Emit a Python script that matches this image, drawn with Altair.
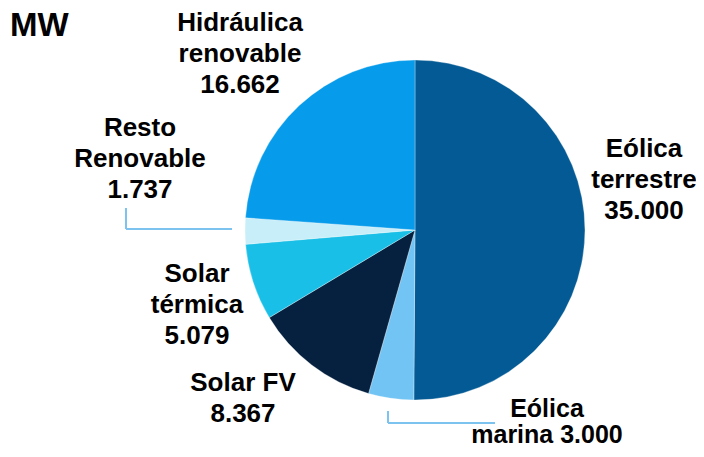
import altair as alt
import pandas as pd

categories = ["Eólica terrestre", "Eólica marina", "Solar FV", "Solar térmica",
              "Resto Renovable", "Hidráulica renovable"]
values_mw = [35000, 3000, 8367, 5079, 1737, 16662]
colors = ["#035a94", "#72c4f4", "#06213f", "#19bfe6", "#c8eff9", "#079ceb"]

def fmt(v):
    return f"{v:,}".replace(",", ".")

label_lines = {
    "Eólica terrestre": ["Eólica", "terrestre", fmt(values_mw[0])],
    "Eólica marina": ["Eólica", "marina " + fmt(values_mw[1])],
    "Solar FV": ["Solar FV", fmt(values_mw[2])],
    "Solar térmica": ["Solar", "térmica", fmt(values_mw[3])],
    "Resto Renovable": ["Resto", "Renovable", fmt(values_mw[4])],
    "Hidráulica renovable": ["Hidráulica", "renovable", fmt(values_mw[5])],
}

df = pd.DataFrame({"cat": categories, "val": values_mw,
                   "ord": list(range(len(categories)))})

W, H = 688, 441
CX, CY, R = 407, 222, 170
FONT = "Liberation Sans"

pie = alt.Chart(df).mark_arc(outerRadius=R, stroke="#ffffff", strokeWidth=0.6,
                             strokeOpacity=0.5).encode(
    theta=alt.Theta("val:Q", stack=True),
    order=alt.Order("ord:Q"),
    color=alt.Color("cat:N", scale=alt.Scale(domain=categories, range=colors), legend=None),
    x=alt.value(CX), y=alt.value(CY),
)

# position of first line centre of each label (chart pixels)
label_pos = {
    "Hidráulica renovable": (232, 15),
    "Resto Renovable": (132, 120),
    "Eólica terrestre": (636, 141),
    "Solar térmica": (189, 266),
    "Solar FV": (235, 375),
    "Eólica marina": (539, 401),
}
line_h = {"Eólica marina": 26}
font_sz = {"Eólica marina": 25}

layers = [pie]
base = alt.Chart(pd.DataFrame({"a": [0]}))
for cat in categories:
    px, py = label_pos[cat]
    layers.append(base.mark_text(font=FONT, fontWeight="bold", fontSize=font_sz.get(cat, 26),
                                 lineHeight=line_h.get(cat, 31), align="center",
                                 baseline="middle", color="#000000").encode(
        x=alt.value(px), y=alt.value(py), text=alt.value(label_lines[cat])))

layers.append(base.mark_text(font=FONT, fontWeight="bold", fontSize=33,
                             align="left", baseline="middle", color="#000000").encode(
    x=alt.value(2), y=alt.value(18), text=alt.value("MW")))

LINE = "#7cc4ef"
# leader lines
for (x1, y1, x2, y2) in [(118, 200, 118, 221), (118, 221, 224, 221),
                         (380, 403, 380, 415), (380, 415, 487, 415)]:
    enc = dict(x=alt.value(x1), y=alt.value(y1))
    if x1 == x2:
        enc["y2"] = alt.value(y2)
    else:
        enc["x2"] = alt.value(x2)
    layers.append(base.mark_rule(color=LINE, strokeWidth=2).encode(**enc))

chart = alt.layer(*layers).properties(
    width=W, height=H, padding=0,
    autosize=alt.AutoSizeParams(type="none"),
).configure_view(stroke=None)

chart.save("out.html", embed_options={"renderer": "svg", "actions": False})
